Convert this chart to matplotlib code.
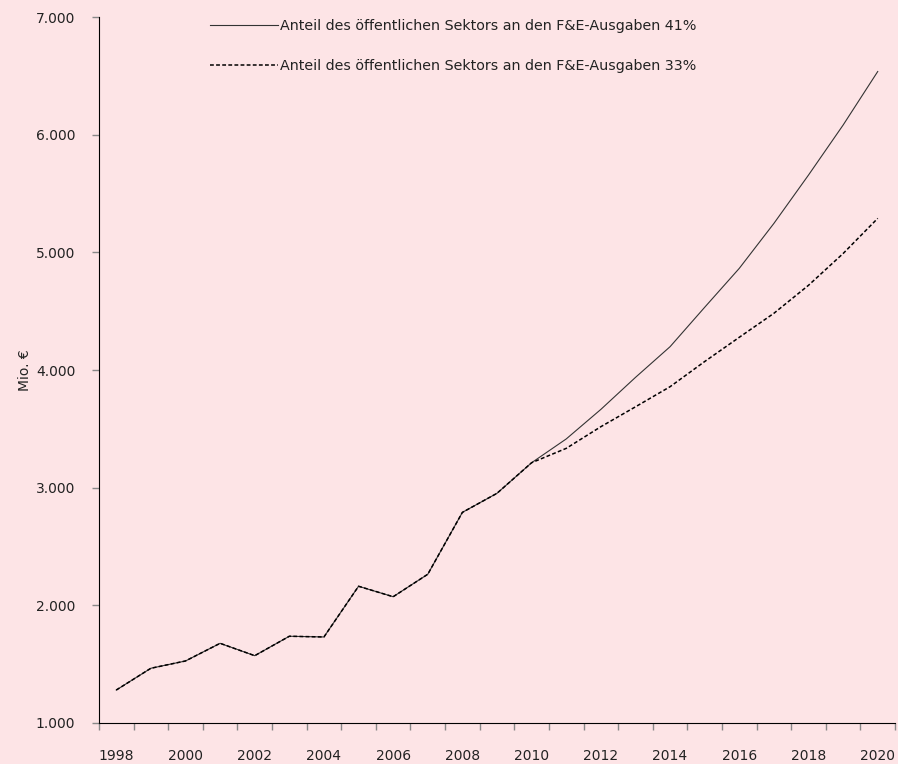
import matplotlib
matplotlib.use("Agg")
import matplotlib.pyplot as plt
from matplotlib.ticker import FuncFormatter, MultipleLocator

plt.rcParams["font.family"] = ["DejaVu Sans"]

years = list(range(1998, 2021))
# historical values 1998-2010, then the two projections
history = [1280, 1465, 1527, 1677, 1572, 1737, 1731, 2162, 2073, 2264, 2790, 2952, 3212]
proj_41 = [3414, 3665, 3937, 4198, 4533, 4864, 5246, 5657, 6082, 6537]
proj_33 = [3334, 3518, 3687, 3858, 4072, 4278, 4482, 4720, 4990, 5289]
labels = ["Anteil des öffentlichen Sektors an den F&E-Ausgaben 41%",
          "Anteil des öffentlichen Sektors an den F&E-Ausgaben 33%"]

bg = "#fde4e6"
fig = plt.figure(figsize=(8.98, 7.64), dpi=100, facecolor=bg)
ax = fig.add_axes([0.1102, 0.0537, 0.8865, 0.924])
ax.set_facecolor(bg)

ax.plot(years, history + proj_41, color="#333333", lw=0.8, label=labels[0])
ax.plot(years, history + proj_33, color="black", lw=1.1, linestyle=(0, (2.5, 1.5)), label=labels[1])

ax.set_xlim(1997.5, 2020.5)
ax.set_ylim(1000, 7000)

# category-style axis: ticks between the years, labels every second year
ax.set_xticks([y for y in years if y % 2 == 0])
ax.set_xticks([y - 0.5 for y in years] + [2020.5], minor=True)
ax.tick_params(axis="x", which="major", length=0, pad=19, labelsize=10, colors="#222222")
ax.tick_params(axis="x", which="minor", length=5, width=1, color="#888888", direction="out")

ax.yaxis.set_major_locator(MultipleLocator(1000))
ax.yaxis.set_major_formatter(FuncFormatter(lambda v, p: f"{int(v):,}".replace(",", ".")))
ax.tick_params(axis="y", length=5, width=1, color="#888888", pad=12, labelsize=10, labelcolor="#222222")

ax.set_ylabel("Mio. €", fontsize=10, color="#222222", labelpad=3)

for s in ["top", "right"]:
    ax.spines[s].set_visible(False)
ax.spines["left"].set_color("black")
ax.spines["bottom"].set_color("black")

ax.legend(loc="upper left", bbox_to_anchor=(0.220, 0.992), bbox_transform=fig.transFigure,
          frameon=False, fontsize=10.3, handlelength=4.7, handletextpad=0.15,
          labelspacing=1.8, labelcolor="#222222")

fig.savefig("out.png", dpi=100, facecolor=bg)
